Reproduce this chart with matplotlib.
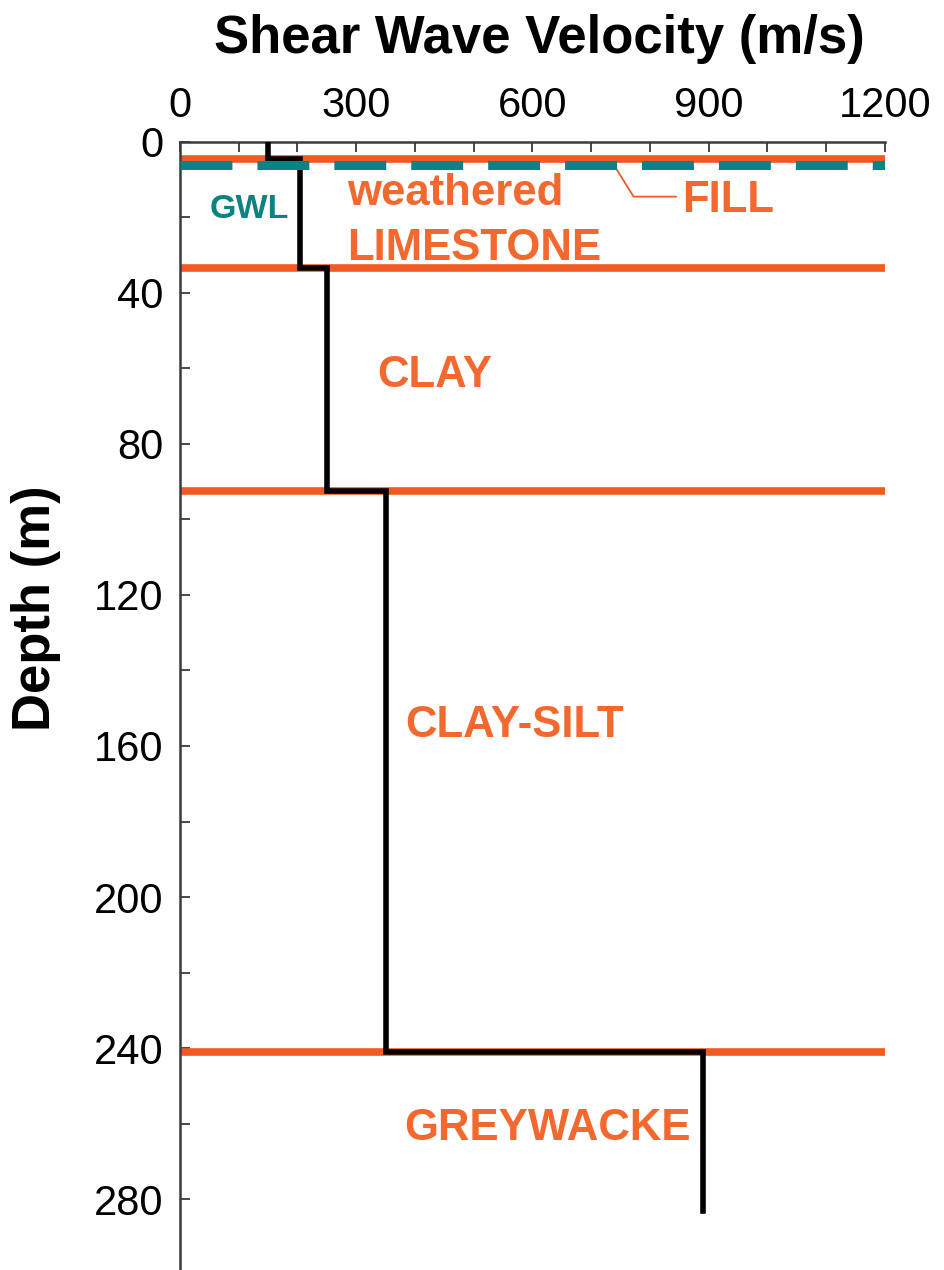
import numpy as np
import matplotlib
matplotlib.use("Agg")
import matplotlib.pyplot as plt
from matplotlib.ticker import MultipleLocator

plt.rcParams['font.family'] = ['Liberation Sans', 'DejaVu Sans']

# Shear wave velocity profile (step function)
layer_depths = [0, 4.5, 33.5, 92.5, 241, 283]   # m, layer boundaries
layer_vs = [150, 205, 250, 350, 890]            # m/s, one value per layer

# Stratigraphic boundaries and ground water level
boundaries = [4.5, 33.5, 92.5, 241]
gwl_depth = 6.3

layer_names = ['weathered', 'LIMESTONE', 'FILL', 'CLAY', 'CLAY-SILT', 'GREYWACKE']

orange = '#f15a22'
orange_txt = '#f3682e'
teal = '#0a8383'

fig = plt.figure(figsize=(9.45, 12.7), dpi=100)
ax = fig.add_axes([180 / 945, 0, 705 / 945, 1 - 141.5 / 1270])

# orange layer boundaries
ax.hlines(boundaries, 0, 1200, color=orange, lw=5.5, zorder=2, clip_on=False)

# velocity step profile
xs = np.repeat(layer_vs, 2)
ys = np.repeat(layer_depths, 2)[1:-1]
ax.plot(xs, ys, color='black', lw=4, zorder=3, solid_joinstyle='miter')

# ground water level
ax.axhline(gwl_depth, color=teal, lw=6.5, dashes=(5.75, 2.77), zorder=4)

# leader line for FILL
ax.plot([733, 772, 844], [4.8, 14.6, 14.6], color=orange, lw=1.3, zorder=2)

kw = dict(color=orange_txt, fontsize=31.5, fontweight='bold', ha='left', va='baseline')
ax.text(284, 16.8, layer_names[0], **kw)
ax.text(284, 31.3, layer_names[1], **kw)
ax.text(854, 18.6, layer_names[2], **kw)
ax.text(335, 65.0, layer_names[3], **kw)
ax.text(383, 157.6, layer_names[4], **kw)
ax.text(382, 264.2, layer_names[5], **kw)
ax.text(51, 20.3, 'GWL', color=teal, fontsize=24.5, fontweight='bold',
        ha='left', va='baseline')

ax.set_xlim(0, 1200)
ax.set_ylim(298.7, 0)
ax.xaxis.tick_top()
ax.xaxis.set_major_locator(MultipleLocator(300))
ax.xaxis.set_minor_locator(MultipleLocator(100))
ax.yaxis.set_major_locator(MultipleLocator(40))
ax.yaxis.set_minor_locator(MultipleLocator(20))
ax.tick_params(which='both', direction='in', length=7, width=1.3, color='#3a3a3a')
ax.tick_params(axis='x', which='major', pad=11.5, labelsize=30)
ax.tick_params(axis='y', which='major', pad=12, labelsize=30)

for s in ['right', 'bottom']:
    ax.spines[s].set_visible(False)
for s in ['left', 'top']:
    ax.spines[s].set_color('#3a3a3a')
    ax.spines[s].set_linewidth(1.8)

fig.text(539 / 945, 1 - 53 / 1270, 'Shear Wave Velocity (m/s)', fontsize=38,
         fontweight='bold', ha='center', va='baseline')
fig.text(36 / 945, 1 - 608 / 1270, 'Depth (m)', fontsize=38, fontweight='bold',
         rotation=90, ha='center', va='center')

fig.savefig('out.png', dpi=100)
